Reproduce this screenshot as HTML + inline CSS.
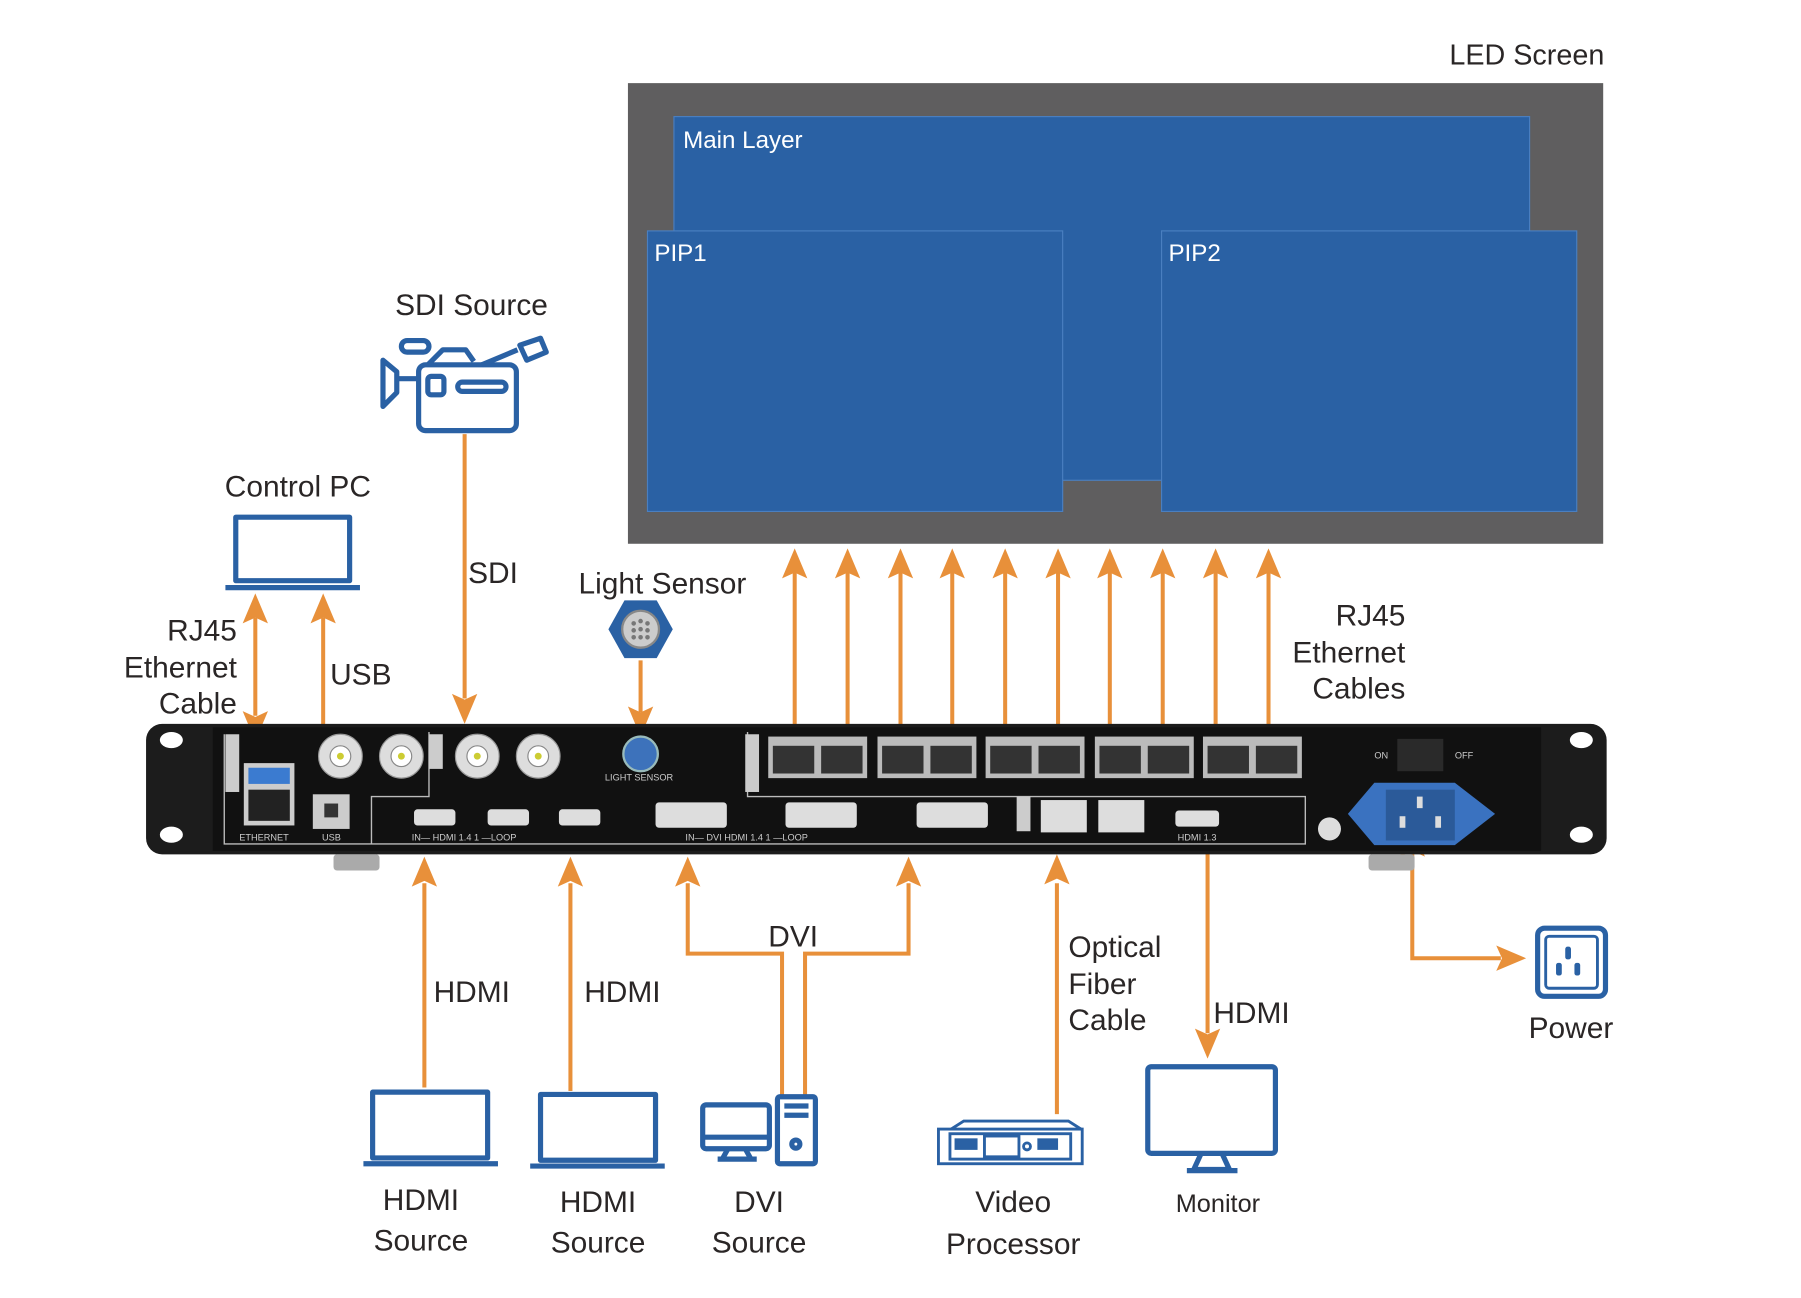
<!DOCTYPE html>
<html><head><meta charset="utf-8"><style>
html,body{margin:0;padding:0;background:#fff;}
svg{display:block;}
text{font-family:"Liberation Sans",sans-serif;fill:#2a2626;}
</style></head><body>
<svg width="1801" height="1298" viewBox="0 0 1566 1124.3" preserveAspectRatio="none" xmlns="http://www.w3.org/2000/svg">
<g font-size="25">
<text x="1395" y="56" text-anchor="end">LED Screen</text>
</g>
<rect x="546" y="72" width="848" height="399" fill="#5f5e5f"/>
<rect x="586" y="101" width="744" height="315" fill="#2a61a4" stroke="#4a7fc0" stroke-width="1"/>
<rect x="563" y="200" width="361" height="243" fill="#2a61a4" stroke="#4a7fc0" stroke-width="1"/>
<rect x="1010" y="200" width="361" height="243" fill="#2a61a4" stroke="#4a7fc0" stroke-width="1"/>
<g font-size="21">
<text x="594" y="128" style="fill:#fff">Main Layer</text>
<text x="569" y="226" style="fill:#fff">PIP1</text>
<text x="1016" y="226" style="fill:#fff">PIP2</text>
</g>

<g stroke="#e8903a" stroke-width="3.5" fill="none">
<path d="M691 640V495M737 640V495M783 640V495M828 640V495M874 640V495M920 640V495M965 640V495M1011 640V495M1057 640V495M1103 640V495"/>
<path d="M222 535V620M281 535V683M404 376V605M557 572V617"/>
<path d="M369 942V765M496 945V765M598 765V826H680V950M790 765V826H700V950M919 965V765M1050 738V895M1228 740V830H1305"/>
</g>
<g fill="#e8903a">
<path id="up" d="M0 0L-11 26L0 21L11 26Z" transform="translate(691,475)"/>
<use href="#up" x="46"/><use href="#up" x="92"/><use href="#up" x="137"/><use href="#up" x="183"/><use href="#up" x="229"/><use href="#up" x="274"/><use href="#up" x="320"/><use href="#up" x="366"/><use href="#up" x="412"/>
<path d="M0 0L-11 26L0 21L11 26Z" transform="translate(222,514)"/>
<path d="M0 0L-11 26L0 21L11 26Z" transform="translate(281,514)"/>
<path d="M0 0L-11 26L0 21L11 26Z" transform="translate(222,642) rotate(180)"/>
<path d="M0 0L-11 26L0 21L11 26Z" transform="translate(281,692) rotate(180)"/>
<path d="M0 0L-11 26L0 21L11 26Z" transform="translate(404,627) rotate(180)"/>
<path d="M0 0L-11 26L0 21L11 26Z" transform="translate(557,638) rotate(180)"/>
<path d="M0 0L-11 26L0 21L11 26Z" transform="translate(369,742)"/>
<path d="M0 0L-11 26L0 21L11 26Z" transform="translate(496,742)"/>
<path d="M0 0L-11 26L0 21L11 26Z" transform="translate(598,742)"/>
<path d="M0 0L-11 26L0 21L11 26Z" transform="translate(790,742)"/>
<path d="M0 0L-11 26L0 21L11 26Z" transform="translate(919,740)"/>
<path d="M0 0L-11 26L0 21L11 26Z" transform="translate(1050,917) rotate(180)"/>
<path d="M0 0L-11 26L0 21L11 26Z" transform="translate(1228,716)"/>
<path d="M0 0L-11 26L0 21L11 26Z" transform="translate(1327,830) rotate(90)"/>
</g>

<rect x="127" y="627" width="1270" height="113" rx="14" fill="#1c1c1c"/>
<rect x="185" y="630" width="1155" height="107" fill="#111"/>
<g fill="#fff">
<ellipse cx="149" cy="641" rx="10" ry="7"/><ellipse cx="149" cy="723" rx="10" ry="7"/>
<ellipse cx="1375" cy="641" rx="10" ry="7"/><ellipse cx="1375" cy="723" rx="10" ry="7"/>
</g>
<g fill="none" stroke="#bbb" stroke-width="1.2">
<path d="M195 636V731H1135V690H650V634"/>
<path d="M323 731V690H373V634"/>
</g>
<rect x="196" y="636" width="12" height="50" fill="#ccc"/>
<rect x="373" y="636" width="12" height="30" fill="#ccc"/>
<rect x="648" y="636" width="12" height="50" fill="#ccc"/>
<rect x="884" y="690" width="12" height="30" fill="#ccc"/>
<g fill="#ddd" stroke="#999" stroke-width="1">
<circle cx="296" cy="655" r="19"/><circle cx="349" cy="655" r="19"/><circle cx="415" cy="655" r="19"/><circle cx="468" cy="655" r="19"/>
</g>
<g fill="#fff" stroke="#888"><circle cx="296" cy="655" r="9"/><circle cx="349" cy="655" r="9"/><circle cx="415" cy="655" r="9"/><circle cx="468" cy="655" r="9"/></g>
<g fill="#cc3"><circle cx="296" cy="655" r="3"/><circle cx="349" cy="655" r="3"/><circle cx="415" cy="655" r="3"/><circle cx="468" cy="655" r="3"/></g>
<rect x="212" y="661" width="44" height="54" fill="#ccc"/>
<rect x="216" y="665" width="36" height="14" fill="#3b7bd0"/>
<rect x="216" y="684" width="36" height="27" fill="#222"/>
<rect x="272" y="688" width="32" height="30" fill="#ccc"/>
<rect x="282" y="696" width="12" height="12" fill="#333"/>
<circle cx="557" cy="653" r="15" fill="#3d72bb" stroke="#9bb" stroke-width="2"/>
<g fill="#bbb">
<rect x="668" y="638" width="86" height="36"/><rect x="763" y="638" width="86" height="36"/><rect x="857" y="638" width="86" height="36"/><rect x="952" y="638" width="86" height="36"/><rect x="1046" y="638" width="86" height="36"/>
</g>
<g fill="#333">
<rect x="672" y="646" width="36" height="24"/><rect x="714" y="646" width="36" height="24"/>
<rect x="767" y="646" width="36" height="24"/><rect x="809" y="646" width="36" height="24"/>
<rect x="861" y="646" width="36" height="24"/><rect x="903" y="646" width="36" height="24"/>
<rect x="956" y="646" width="36" height="24"/><rect x="998" y="646" width="36" height="24"/>
<rect x="1050" y="646" width="36" height="24"/><rect x="1092" y="646" width="36" height="24"/>
</g>
<g fill="#ddd">
<rect x="360" y="701" width="36" height="14" rx="3"/><rect x="424" y="701" width="36" height="14" rx="3"/><rect x="486" y="701" width="36" height="14" rx="3"/>
<rect x="570" y="695" width="62" height="22" rx="3"/><rect x="683" y="695" width="62" height="22" rx="3"/><rect x="797" y="695" width="62" height="22" rx="3"/>
<rect x="905" y="693" width="40" height="28"/><rect x="955" y="693" width="40" height="28"/>
<rect x="1022" y="702" width="38" height="14" rx="3"/>
<circle cx="1156" cy="718" r="10"/>
</g>
<g font-size="8">
<text x="208" y="728" style="fill:#ccc">ETHERNET</text><text x="280" y="728" style="fill:#ccc">USB</text>
<text x="358" y="728" style="fill:#ccc">IN— HDMI 1.4 1 —LOOP</text>
<text x="596" y="728" style="fill:#ccc">IN— DVI HDMI 1.4 1 —LOOP</text>
<text x="526" y="676" style="fill:#ccc">LIGHT SENSOR</text>
<text x="1024" y="728" style="fill:#ccc">HDMI 1.3</text>
<text x="1195" y="657" style="fill:#ccc">ON</text><text x="1265" y="657" style="fill:#ccc">OFF</text>
</g>
<rect x="1215" y="640" width="40" height="28" fill="#2a2a2a"/>
<path d="M1172 705L1195 678H1265L1300 705L1265 732H1195Z" fill="#3a72c0"/>
<rect x="1205" y="684" width="60" height="44" fill="#2b5a99"/>
<g fill="#ddd"><rect x="1232" y="690" width="5" height="10"/><rect x="1217" y="707" width="5" height="10"/><rect x="1248" y="707" width="5" height="10"/></g>
<g fill="#aaa"><rect x="290" y="740" width="40" height="14" rx="3"/><rect x="1190" y="740" width="40" height="14" rx="3"/></g>

<g fill="none" stroke="#2a61a4" stroke-width="4.5" stroke-linejoin="round">
<rect x="205" y="448" width="99" height="55"/>
<path d="M196 509H313"/>
<rect x="324" y="946" width="100" height="57"/>
<path d="M316 1008H433"/>
<rect x="470" y="948" width="100" height="57"/>
<path d="M461 1010H578"/>
<rect x="611" y="957" width="58" height="38" rx="3"/>
<path d="M611 985H669M633 995L628 1004H653L648 995M624 1004H658"/>
<rect x="676" y="950" width="33" height="58" rx="2"/>
<path d="M682 958H703M682 966H703"/>
<circle cx="692" cy="991" r="3.5"/>
<rect x="998" y="924" width="111" height="75" rx="3"/>
<path d="M1044 1000L1038 1013H1069L1063 1000M1032 1014H1076"/>
<rect x="1337" y="804" width="59" height="59" rx="6"/>
<rect x="1344" y="811" width="45" height="45" rx="3" stroke-width="2.5"/>
<rect x="364" y="316" width="85" height="57" rx="6"/>
<path d="M364 328H345V340L333 352V312L345 322V328"/>
<rect x="372" y="326" width="14" height="16" rx="3"/>
<rect x="398" y="331" width="42" height="8" rx="4"/>
<path d="M372 316L385 303H405L412 313M419 316L450 303"/>
<rect x="349" y="295" width="24" height="10" rx="5"/>
<path d="M452 299L470 293L475 305L458 312Z"/>
</g>
<g fill="#2a61a4"><rect x="1361" y="820" width="5" height="11" rx="2"/><rect x="1353" y="834" width="5" height="11" rx="2"/><rect x="1369" y="834" width="5" height="11" rx="2"/></g>
<g fill="none" stroke="#2a61a4" stroke-width="2.5">
<path d="M827 978L838 971H929L940 978"/>
<rect x="816" y="978" width="125" height="30"/>
<rect x="826" y="982" width="105" height="22"/>
<rect x="856" y="984" width="30" height="18"/>
<circle cx="893" cy="993" r="3"/>
</g>
<g fill="#2a61a4"><rect x="830" y="986" width="20" height="10"/><rect x="902" y="986" width="18" height="10"/></g>
<path d="M543 520H571L585 545L571 570H543L529 545Z" fill="#2a61a4"/>
<circle cx="557" cy="545" r="16" fill="#ccc" stroke="#888" stroke-width="2"/>
<g fill="#777"><circle cx="551" cy="540" r="2"/><circle cx="557" cy="538" r="2"/><circle cx="563" cy="540" r="2"/><circle cx="551" cy="546" r="2"/><circle cx="557" cy="545" r="2"/><circle cx="563" cy="546" r="2"/><circle cx="551" cy="552" r="2"/><circle cx="557" cy="552" r="2"/><circle cx="563" cy="552" r="2"/></g>

<g font-size="26">
<text x="410" y="273" text-anchor="middle">SDI Source</text>
<text x="259" y="430" text-anchor="middle">Control PC</text>
<text x="407" y="505">SDI</text>
<text x="576" y="514" text-anchor="middle">Light Sensor</text>
<text x="206" y="555" text-anchor="end">RJ45</text>
<text x="206" y="587" text-anchor="end">Ethernet</text>
<text x="206" y="618" text-anchor="end">Cable</text>
<text x="287" y="593">USB</text>
<text x="1222" y="542" text-anchor="end">RJ45</text>
<text x="1222" y="574" text-anchor="end">Ethernet</text>
<text x="1222" y="605" text-anchor="end">Cables</text>
<text x="377" y="868">HDMI</text>
<text x="508" y="868">HDMI</text>
<text x="668" y="820">DVI</text>
<text x="929" y="829">Optical</text>
<text x="929" y="861">Fiber</text>
<text x="929" y="892">Cable</text>
<text x="1055" y="886">HDMI</text>
<text x="1366" y="899" text-anchor="middle">Power</text>
<text x="366" y="1048" text-anchor="middle">HDMI</text>
<text x="366" y="1083" text-anchor="middle">Source</text>
<text x="520" y="1050" text-anchor="middle">HDMI</text>
<text x="520" y="1085" text-anchor="middle">Source</text>
<text x="660" y="1050" text-anchor="middle">DVI</text>
<text x="660" y="1085" text-anchor="middle">Source</text>
<text x="881" y="1050" text-anchor="middle">Video</text>
<text x="881" y="1086" text-anchor="middle">Processor</text>
<text x="1059" y="1050" text-anchor="middle" font-size="22">Monitor</text>
</g>
</svg>
</body></html>
